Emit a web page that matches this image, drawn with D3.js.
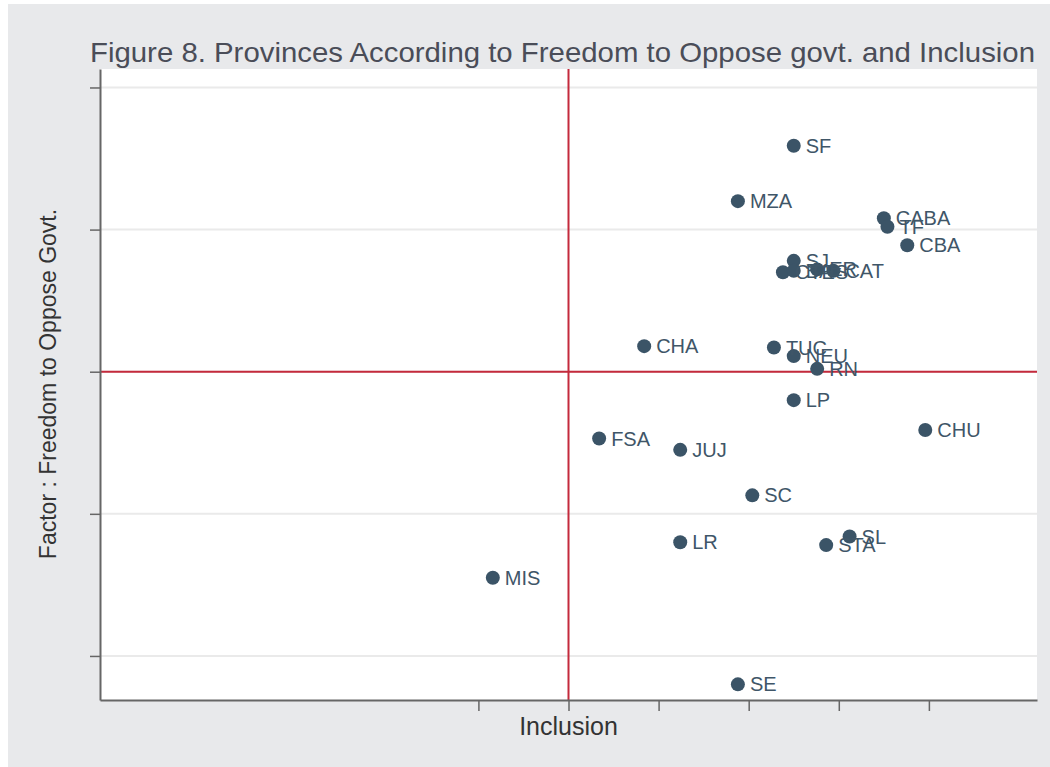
<!DOCTYPE html>
<html>
<head>
<meta charset="utf-8">
<script src="https://cdn.jsdelivr.net/npm/d3@7"></script>
<style>
  body { margin: 0; background: #fff; }
  text { font-family: 'Liberation Sans', Arial, sans-serif; }
</style>
</head>
<body>
<div id="chart"></div>
<script>
const provinces = ['SF', 'MZA', 'CABA', 'TF', 'CBA', 'SJ', 'CTES', 'BA', 'ER', 'CAT',
    'TUC', 'NEU', 'RN', 'LP', 'CHA', 'CHU', 'FSA', 'JUJ', 'SC', 'LR', 'SL', 'STA', 'MIS', 'SE']
const inclusion = [1.25, 0.94, 1.75, 1.77, 1.88, 1.25, 1.19, 1.25, 1.38, 1.47,
    1.14, 1.25, 1.38, 1.25, 0.42, 1.98, 0.17, 0.62, 1.02, 0.62, 1.56, 1.43, -0.42, 0.94]
const freedom = [1.59, 1.2, 1.08, 1.02, 0.89, 0.78, 0.7, 0.71, 0.72, 0.71,
    0.17, 0.11, 0.02, -0.2, 0.18, -0.41, -0.47, -0.55, -0.87, -1.2, -1.16, -1.22, -1.45, -2.2]
const xTicks = [-0.5, 0, 0.5, 1, 1.5, 2]
const yTicks = [-2, -1, 0, 1, 2]

const width = 1050
const height = 767
const margin = { top: 69, right: 13, bottom: 67, left: 100 }
const plotW = width - margin.left - margin.right
const plotH = height - margin.top - margin.bottom

const data = provinces.map((p, i) => ({ name: p, x: inclusion[i], y: freedom[i] }))

const x = d3.scaleLinear().domain([-2.6, 2.6]).range([0, plotW])
const y = d3.scaleLinear().domain([-2.31, 2.13]).range([plotH, 0])

const svg = d3
    .select('#chart')
    .append('svg')
    .attr('width', width)
    .attr('height', height)

svg.append('rect')
    .attr('x', 8)
    .attr('y', 4)
    .attr('width', width - 8)
    .attr('height', height - 4)
    .attr('fill', '#e8e9eb')

svg.append('text')
    .attr('x', 90)
    .attr('y', 62)
    .attr('textLength', 945)
    .attr('lengthAdjust', 'spacingAndGlyphs')
    .style('font-size', '28px')
    .style('fill', '#4a4d58')
    .text('Figure 8. Provinces According to Freedom to Oppose govt. and Inclusion')

const plot = svg
    .append('g')
    .attr('transform', `translate(${margin.left}, ${margin.top})`)

plot.append('rect')
    .attr('width', plotW)
    .attr('height', plotH)
    .attr('fill', '#fff')

// gridlines
plot.selectAll('.grid')
    .data(yTicks)
    .enter()
    .append('line')
    .attr('x1', 0)
    .attr('x2', plotW)
    .attr('y1', (d) => y(d))
    .attr('y2', (d) => y(d))
    .attr('stroke', '#eaeaea')
    .attr('stroke-width', 2)

// reference lines
plot.append('line')
    .attr('x1', x(0))
    .attr('x2', x(0))
    .attr('y1', 0)
    .attr('y2', plotH)
    .attr('stroke', '#c42a3c')
    .attr('stroke-width', 2)

plot.append('line')
    .attr('x1', 0)
    .attr('x2', plotW)
    .attr('y1', y(0))
    .attr('y2', y(0))
    .attr('stroke', '#c42a3c')
    .attr('stroke-width', 2)

// axes
const xAxis = plot
    .append('g')
    .attr('transform', `translate(0, ${plotH})`)
    .call(d3.axisBottom(x).tickValues(xTicks).tickSize(11).tickFormat('').tickSizeOuter(0))
const yAxis = plot
    .append('g')
    .call(d3.axisLeft(y).tickValues(yTicks).tickSize(10).tickFormat('').tickSizeOuter(0))

;[xAxis, yAxis].forEach((a) => {
    a.select('.domain').attr('stroke', '#666').attr('stroke-width', 2)
    a.selectAll('.tick line').attr('stroke', '#666').attr('stroke-width', 1.5)
})

// points
plot.selectAll('.dot')
    .data(data)
    .enter()
    .append('circle')
    .attr('class', 'dot')
    .attr('cx', (d) => x(d.x))
    .attr('cy', (d) => y(d.y))
    .attr('r', 7)
    .attr('fill', '#3b5467')

plot.selectAll('.label')
    .data(data)
    .enter()
    .append('text')
    .attr('class', 'label')
    .attr('x', (d) => x(d.x) + 12)
    .attr('y', (d) => y(d.y) + 7)
    .style('font-size', '20px')
    .style('fill', '#3f5668')
    .text((d) => d.name)

// axis titles
svg.append('text')
    .attr('x', margin.left + x(0))
    .attr('y', 735)
    .attr('text-anchor', 'middle')
    .style('font-size', '25px')
    .style('fill', '#333')
    .text('Inclusion')

svg.append('text')
    .attr('transform', `translate(56, 384) rotate(-90)`)
    .attr('text-anchor', 'middle')
    .style('font-size', '23px')
    .style('fill', '#333')
    .text('Factor : Freedom to Oppose Govt.')
</script>
</body>
</html>
